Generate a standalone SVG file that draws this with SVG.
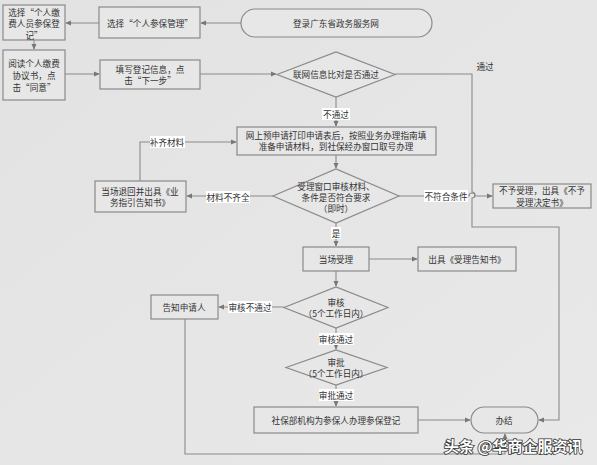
<svg xmlns="http://www.w3.org/2000/svg" width="597" height="465" viewBox="0 0 597 465">
<style>
.n{fill:#e7e7e7;stroke:#8a8a8a;stroke-width:1.2}
.t{font-family:"Noto Sans CJK SC","Liberation Sans",sans-serif;font-size:8.6px;fill:#333;text-anchor:middle;dominant-baseline:central}
.e{fill:none;stroke:#8a8a8a;stroke-width:1.1}
.lb{fill:#fff}
</style>
<defs>
<marker id="a" viewBox="0 0 8 8" refX="7" refY="4" markerWidth="6" markerHeight="6" orient="auto" markerUnits="userSpaceOnUse">
<path d="M0,0.5 L8,4 L0,7.5 z" fill="#777"/>
</marker>
<linearGradient id="bg" x1="0" y1="0" x2="1" y2="1">
<stop offset="0" stop-color="#e2e2e2"/>
<stop offset="1" stop-color="#e9e9e9"/>
</linearGradient>
</defs>
<rect width="597" height="465" fill="url(#bg)"/>

<g id="connectors">
<path class="e" d="M241,23 H201" marker-end="url(#a)"/>
<path class="e" d="M99,23 H66" marker-end="url(#a)"/>
<path class="e" d="M34,40 V49" marker-end="url(#a)"/>
<path class="e" d="M65,74 H99" marker-end="url(#a)"/>
<path class="e" d="M200,74 H276" marker-end="url(#a)"/>
<path class="e" d="M395,74 H472 V192 A3,3 0 0 1 472,198 V227 H559 V420 H539" marker-end="url(#a)"/>
<path class="e" d="M336,97 V126" marker-end="url(#a)"/>
<path class="e" d="M336,155 V168" marker-end="url(#a)"/>
<path class="e" d="M273,196 H187" marker-end="url(#a)"/>
<path class="e" d="M140,181 V142 H236" marker-end="url(#a)"/>
<path class="e" d="M399,196 H469 A3,3 0 0 1 475,196 H492" marker-end="url(#a)"/>
<path class="e" d="M336,223 V246" marker-end="url(#a)"/>
<path class="e" d="M369,259 H417" marker-end="url(#a)"/>
<path class="e" d="M336,271 V286" marker-end="url(#a)"/>
<path class="e" d="M284,307 H219" marker-end="url(#a)"/>
<path class="e" d="M336,328 V349" marker-end="url(#a)"/>
<path class="e" d="M336,385 V406" marker-end="url(#a)"/>
<path class="e" d="M418,420 H470" marker-end="url(#a)"/>
<path class="e" d="M185,319 V454 H505 V434" marker-end="url(#a)"/>
<rect class="lb" x="322" y="108" width="28" height="12"/>
<text class="t" x="336" y="114">不通过</text>
<rect class="lb" x="150" y="136" width="35" height="12"/>
<text class="t" x="167" y="142">补齐材料</text>
<rect class="lb" x="206" y="191" width="44" height="12"/>
<text class="t" x="228" y="197">材料不齐全</text>
<rect class="lb" x="424" y="190" width="44" height="12"/>
<text class="t" x="446" y="196">不符合条件</text>
<rect class="lb" x="331" y="227" width="10" height="12"/>
<text class="t" x="336" y="233">是</text>
<rect class="lb" x="228" y="301" width="44" height="12"/>
<text class="t" x="250" y="307">审核不通过</text>
<rect class="lb" x="319" y="333" width="35" height="12"/>
<text class="t" x="336" y="339">审核通过</text>
<rect class="lb" x="319" y="389" width="35" height="12"/>
<text class="t" x="336" y="395">审批通过</text>
<text class="t" x="485" y="66">通过</text>
</g>

<g id="start"><rect class="n" x="241" y="9" width="191" height="28" rx="14"/><text class="t" x="336" y="23">登录广东省政务服务网</text></g>
<g id="sel-mgmt"><rect class="n" x="99" y="7" width="101" height="31"/><text class="t" x="150" y="23">选择“个人参保管理”</text></g>
<g id="sel-reg"><rect class="n" x="3" y="5" width="62" height="35"/><text class="t" x="34" y="12">选择“个人缴</text><text class="t" x="34" y="23">费人员参保登</text><text class="t" x="34" y="35">记”</text></g>
<g id="read"><rect class="n" x="3" y="50" width="62" height="50"/><text class="t" x="34" y="63">阅读个人缴费</text><text class="t" x="34" y="75">协议书，点</text><text class="t" x="34" y="87">击“同意”</text></g>
<g id="fill"><rect class="n" x="100" y="60" width="100" height="29"/><text class="t" x="150" y="69">填写登记信息，点</text><text class="t" x="150" y="80">击“下一步”</text></g>
<g id="check"><path class="n" d="M277,74.5 L336,52 L395,74.5 L336,97 z"/><text class="t" x="336" y="74">联网信息比对是否通过</text></g>
<g id="prepare"><rect class="n" x="237" y="127" width="199" height="28"/><text class="t" x="336" y="135">网上预申请打印申请表后，按照业务办理指南填</text><text class="t" x="336" y="146">准备申请材料，到社保经办窗口取号办理</text></g>
<g id="window"><path class="n" d="M273,196 L336,169 L399,196 L336,223 z"/><text class="t" x="336" y="186">受理窗口审核材料、</text><text class="t" x="336" y="197">条件是否符合要求</text><text class="t" x="336" y="208">（即时）</text></g>
<g id="return"><rect class="n" x="95" y="181" width="91" height="31"/><text class="t" x="140" y="191">当场退回并出具《业</text><text class="t" x="140" y="202">务指引告知书》</text></g>
<g id="reject"><rect class="n" x="493" y="184" width="98" height="24"/><text class="t" x="542" y="190">不予受理，出具《不予</text><text class="t" x="542" y="202">受理决定书》</text></g>
<g id="accept"><rect class="n" x="303" y="247" width="66" height="24"/><text class="t" x="336" y="259">当场受理</text></g>
<g id="notice"><rect class="n" x="418" y="247" width="98" height="24"/><text class="t" x="467" y="259">出具《受理告知书》</text></g>
<g id="review"><path class="n" d="M284,307.5 L336,287 L388,307.5 L336,328 z"/><text class="t" x="336" y="302">审核</text><text class="t" x="336" y="313">（5个工作日内）</text></g>
<g id="inform"><rect class="n" x="151" y="295" width="67" height="24"/><text class="t" x="184" y="307">告知申请人</text></g>
<g id="approve"><path class="n" d="M286,367.5 L336,350 L387,367.5 L336,385 z"/><text class="t" x="336" y="362">审批</text><text class="t" x="336" y="373">（5个工作日内）</text></g>
<g id="register"><rect class="n" x="254" y="407" width="164" height="26"/><text class="t" x="336" y="420">社保部机构为参保人办理参保登记</text></g>
<g id="end"><rect class="n" x="471" y="407" width="67" height="26" rx="13"/><text class="t" x="504" y="420">办结</text></g>

<text x="444" y="445" style="font-family:'Noto Sans CJK SC',sans-serif;font-size:15px;font-weight:bold;fill:#fff;stroke:#333;stroke-width:1.6px;paint-order:stroke" dominant-baseline="central">头条 @华商企服资讯</text>
</svg>
